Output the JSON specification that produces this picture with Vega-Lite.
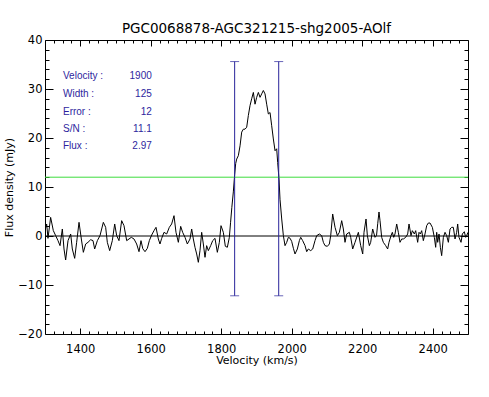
{
  "$schema": "https://vega.github.io/schema/vega-lite/v6.json",
  "width": 423,
  "height": 294,
  "autosize": {"type": "none"},
  "padding": {"left": 45, "top": 40, "right": 21, "bottom": 63},
  "background": "white",
  "title": {"text": "PGC0068878-AGC321215-shg2005-AOlf", "font": "DejaVu Sans", "fontSize": 13.5, "fontWeight": "normal", "color": "black", "offset": -1, "anchor": "middle"},
  "config": {
    "view": {"stroke": null},
    "axis": {"grid": false, "ticks": true, "domainColor": "black", "tickColor": "black", "labelColor": "black", "titleColor": "black", "labelFont": "DejaVu Sans", "titleFont": "DejaVu Sans", "titleFontWeight": "normal", "labelOverlap": false, "labelFlush": false, "labelBound": false, "domainWidth": 1, "tickWidth": 1}
  },
  "datasets": {
    "spec": [
      {"v":1300,"f":1.1},{"v":1304.7,"f":2.45},{"v":1308.5,"f":-0.48},{"v":1316,"f":3.8},{"v":1323.6,"f":1.1},{"v":1330.3,"f":0.07},{"v":1336.9,"f":-0.95},{"v":1342.6,"f":-1.97},{"v":1349.2,"f":1.43},{"v":1353.9,"f":-2.65},{"v":1358.6,"f":-4.9},{"v":1365.3,"f":-0.95},{"v":1372.8,"f":0.41},{"v":1377.5,"f":-2.65},{"v":1384.2,"f":-4.56},{"v":1389.8,"f":-1.29},{"v":1396.5,"f":2.79},{"v":1403.1,"f":-0.61},{"v":1408.8,"f":-3.33},{"v":1415.4,"f":-1.63},{"v":1422,"f":-1.29},{"v":1429.6,"f":-0.75},{"v":1436.2,"f":-0.95},{"v":1440.9,"f":-2.65},{"v":1448.5,"f":-0.95},{"v":1456,"f":0.07},{"v":1465.5,"f":2.79},{"v":1472.1,"f":1.77},{"v":1476.8,"f":-1.29},{"v":1483.5,"f":-2.99},{"v":1491,"f":-0.95},{"v":1497.7,"f":2.45},{"v":1503.3,"f":0.07},{"v":1509.9,"f":-0.95},{"v":1517.5,"f":3.13},{"v":1524.1,"f":2.11},{"v":1531.7,"f":-0.95},{"v":1538.3,"f":-0.61},{"v":1544.9,"f":-0.27},{"v":1552.5,"f":-0.61},{"v":1560,"f":-1.63},{"v":1566.7,"f":-3.2},{"v":1572.3,"f":-0.95},{"v":1577.5,"f":-2.6},{"v":1583.7,"f":-3.2},{"v":1590.3,"f":-2.52},{"v":1596,"f":-0.95},{"v":1602.6,"f":0.2},{"v":1609.2,"f":1.09},{"v":1614.9,"f":1.77},{"v":1621.5,"f":-0.61},{"v":1626.2,"f":-1.63},{"v":1631,"f":-0.48},{"v":1637.6,"f":0.75},{"v":1645.2,"f":0.41},{"v":1652.7,"f":1.77},{"v":1659.3,"f":2.45},{"v":1666,"f":4.15},{"v":1671.6,"f":0.75},{"v":1678.3,"f":-1.29},{"v":1684.9,"f":1.97},{"v":1690.5,"f":0.75},{"v":1697.2,"f":-0.27},{"v":1703.8,"f":-1.63},{"v":1711.4,"f":-0.61},{"v":1716.1,"f":1.43},{"v":1720.8,"f":-0.61},{"v":1725.5,"f":-2.31},{"v":1730.3,"f":-3.67},{"v":1735,"f":-5.37},{"v":1739.7,"f":-2.99},{"v":1744.5,"f":0.75},{"v":1749.2,"f":-1.63},{"v":1753.9,"f":-4.35},{"v":1758.6,"f":-1.97},{"v":1763.4,"f":-2.99},{"v":1770,"f":-1.97},{"v":1775.7,"f":-0.95},{"v":1782.3,"f":-0.48},{"v":1788.9,"f":-3.33},{"v":1794.6,"f":-1.29},{"v":1799.3,"f":2.11},{"v":1805.9,"f":0.75},{"v":1811.6,"f":-2.1},{"v":1817.3,"f":-2.3},{"v":1822.9,"f":-0.3},{"v":1826.5,"f":2.8},{"v":1830,"f":5.8},{"v":1834.3,"f":9.0},{"v":1838,"f":12.5},{"v":1841,"f":14.8},{"v":1843.8,"f":15.7},{"v":1848.5,"f":16.4},{"v":1853.3,"f":18.4},{"v":1858,"f":21.2},{"v":1862.7,"f":21.8},{"v":1867.4,"f":21.8},{"v":1872.2,"f":22.2},{"v":1876.9,"f":24.6},{"v":1881.6,"f":26.6},{"v":1886.3,"f":28.0},{"v":1891.1,"f":29.3},{"v":1895.8,"f":26.9},{"v":1900.5,"f":28.3},{"v":1905.3,"f":29.3},{"v":1910,"f":28.3},{"v":1914.7,"f":29.0},{"v":1919.4,"f":29.7},{"v":1924.2,"f":29.0},{"v":1928.9,"f":26.9},{"v":1933.6,"f":24.9},{"v":1938.4,"f":25.2},{"v":1943.1,"f":22.5},{"v":1947.8,"f":19.8},{"v":1952.6,"f":17.4},{"v":1957.3,"f":17.8},{"v":1960.1,"f":15.0},{"v":1963.9,"f":11.6},{"v":1966.7,"f":7.5},{"v":1971.5,"f":3.47},{"v":1976.2,"f":0.07},{"v":1980.9,"f":-1.97},{"v":1985.7,"f":-1.29},{"v":1990.4,"f":-0.27},{"v":1995.1,"f":-0.45},{"v":1999.8,"f":-1.1},{"v":2004.6,"f":-2.5},{"v":2009.3,"f":-3.67},{"v":2015.9,"f":-2.65},{"v":2021.6,"f":-0.95},{"v":2025.4,"f":-0.27},{"v":2031,"f":-0.95},{"v":2037.7,"f":-1.97},{"v":2042.4,"f":-3.2},{"v":2047.1,"f":-2.65},{"v":2053.7,"f":-2.99},{"v":2059.4,"f":-2.65},{"v":2066,"f":-0.95},{"v":2070.8,"f":0.07},{"v":2078.3,"f":0.41},{"v":2084.9,"f":0.07},{"v":2089.7,"f":-1.29},{"v":2094.4,"f":-1.97},{"v":2101,"f":-2.11},{"v":2106.7,"f":-1.63},{"v":2110.5,"f":0.07},{"v":2116.1,"f":4.49},{"v":2122.8,"f":1.77},{"v":2129.4,"f":0.07},{"v":2135.1,"f":0.75},{"v":2141.7,"f":3.13},{"v":2146.4,"f":1.43},{"v":2151.1,"f":-1.29},{"v":2155.9,"f":0.41},{"v":2163.4,"f":0.75},{"v":2167.2,"f":-0.27},{"v":2172.9,"f":-2.65},{"v":2179.5,"f":-1.29},{"v":2189,"f":0.75},{"v":2195.6,"f":-1.97},{"v":2201.3,"f":-3.67},{"v":2205,"f":0.75},{"v":2210.7,"f":3.47},{"v":2214.5,"f":0.07},{"v":2220.2,"f":-1.97},{"v":2223.9,"f":-1.29},{"v":2229.6,"f":1.43},{"v":2236.3,"f":-0.27},{"v":2240.5,"f":0.1},{"v":2244,"f":2.6},{"v":2247.5,"f":4.9},{"v":2250.4,"f":3.13},{"v":2255.1,"f":-0.27},{"v":2259.8,"f":-1.29},{"v":2266.5,"f":-1.97},{"v":2272.1,"f":-2.65},{"v":2275.9,"f":-1.29},{"v":2281.6,"f":0.07},{"v":2285.4,"f":0.75},{"v":2289.2,"f":-0.27},{"v":2292.9,"f":0.41},{"v":2297.7,"f":2.45},{"v":2302.4,"f":0.75},{"v":2307.1,"f":-1.29},{"v":2311.9,"f":-0.61},{"v":2316.6,"f":-0.61},{"v":2323.2,"f":-0.27},{"v":2328.9,"f":0.41},{"v":2332.7,"f":2.45},{"v":2338.3,"f":0.07},{"v":2342.1,"f":1.09},{"v":2347.8,"f":0.41},{"v":2351.6,"f":1.09},{"v":2357.2,"f":-1.29},{"v":2361,"f":0.75},{"v":2364.8,"f":0.41},{"v":2368.6,"f":1.09},{"v":2373.3,"f":-0.95},{"v":2378,"f":0.41},{"v":2382.8,"f":2.11},{"v":2387.5,"f":2.65},{"v":2392.2,"f":2.65},{"v":2398.9,"f":1.77},{"v":2404.5,"f":-0.27},{"v":2408.3,"f":-2.31},{"v":2411.2,"f":0.75},{"v":2414,"f":-1.29},{"v":2417.8,"f":0.41},{"v":2421.6,"f":-2.31},{"v":2425.3,"f":-4.01},{"v":2430.1,"f":-0.27},{"v":2434.8,"f":0.75},{"v":2439.5,"f":0.07},{"v":2444.3,"f":-1.29},{"v":2449,"f":1.43},{"v":2453.7,"f":1.77},{"v":2458.4,"f":1.77},{"v":2463.2,"f":-0.61},{"v":2467.9,"f":0.75},{"v":2470.7,"f":2.45},{"v":2474.5,"f":-0.27},{"v":2480.2,"f":-1.29},{"v":2484,"f":0.41},{"v":2489.6,"f":0.88},{"v":2493.4,"f":-0.27},{"v":2496.2,"f":0.07},{"v":2500,"f":0.75}
    ],
    "box": [
      {"lab": "Velocity :", "val": "1900", "f": 32.6},
      {"lab": "Width :", "val": "125", "f": 29.0},
      {"lab": "Error :", "val": "12", "f": 25.4},
      {"lab": "S/N :", "val": "11.1", "f": 21.8},
      {"lab": "Flux :", "val": "2.97", "f": 18.3}
    ],
    "edges": [
      {"v": 1838, "lo": -12.2, "hi": 35.6},
      {"v": 1963, "lo": -12.2, "hi": 35.6}
    ]
  },
  "layer": [
    {
      "data": {"name": "spec"},
      "mark": {"type": "line", "color": "black", "strokeWidth": 1, "clip": true, "interpolate": "linear"},
      "encoding": {
        "x": {"field": "v", "type": "quantitative", "scale": {"domain": [1300, 2500], "nice": false, "zero": false},
          "axis": {"orient": "bottom", "values": [1400,1600,1800,2000,2200,2400],
            "format": "d", "tickSize": -6,
            "labelFontSize": 11.5, "labelPadding": 15, "title": "Velocity (km/s)", "titleFontSize": 11, "titlePadding": 0}},
        "y": {"field": "f", "type": "quantitative", "scale": {"domain": [-20, 40], "nice": false, "zero": false},
          "axis": {"orient": "left", "values": [-20,-10,0,10,20,30,40],
            "format": "d", "tickSize": -8,
            "labelFontSize": 11.5, "labelPadding": 11, "title": "Flux density (mJy)", "titleFontSize": 11, "titlePadding": 3}}
      }
    },
    {
      "data": {"name": "spec"},
      "mark": {"type": "line", "opacity": 0},
      "encoding": {
        "x": {"field": "v", "type": "quantitative", "scale": {"domain": [1300, 2500], "nice": false, "zero": false},
          "axis": {"orient": "top", "values": [1400,1600,1800,2000,2200,2400], "labels": false, "title": null, "tickSize": -6}},
        "y": {"field": "f", "type": "quantitative", "scale": {"domain": [-20, 40], "nice": false, "zero": false},
          "axis": {"orient": "right", "values": [-20,-10,0,10,20,30,40], "labels": false, "title": null, "tickSize": -8}}
      }
    },
    {
      "data": {"name": "spec"},
      "mark": {"type": "line", "opacity": 0},
      "encoding": {
        "x": {"field": "v", "type": "quantitative", "scale": {"domain": [1300, 2500], "nice": false, "zero": false},
          "axis": {"orient": "bottom", "values": [1325,1350,1375,1425,1450,1475,1500,1525,1550,1575,1625,1650,1675,1700,1725,1750,1775,1825,1850,1875,1900,1925,1950,1975,2025,2050,2075,2100,2125,2150,2175,2225,2250,2275,2300,2325,2350,2375,2425,2450,2475], "labels": false, "domain": false, "title": null, "tickSize": -3}},
        "y": {"field": "f", "type": "quantitative", "scale": {"domain": [-20, 40], "nice": false, "zero": false},
          "axis": {"orient": "left", "values": [-18,-16,-14,-12,-8,-6,-4,-2,2,4,6,8,12,14,16,18,22,24,26,28,32,34,36,38], "labels": false, "domain": false, "title": null, "tickSize": -4}}
      }
    },
    {
      "data": {"name": "spec"},
      "mark": {"type": "line", "opacity": 0},
      "encoding": {
        "x": {"field": "v", "type": "quantitative", "scale": {"domain": [1300, 2500], "nice": false, "zero": false},
          "axis": {"orient": "top", "values": [1325,1350,1375,1425,1450,1475,1500,1525,1550,1575,1625,1650,1675,1700,1725,1750,1775,1825,1850,1875,1900,1925,1950,1975,2025,2050,2075,2100,2125,2150,2175,2225,2250,2275,2300,2325,2350,2375,2425,2450,2475], "labels": false, "domain": false, "title": null, "tickSize": -3}},
        "y": {"field": "f", "type": "quantitative", "scale": {"domain": [-20, 40], "nice": false, "zero": false},
          "axis": {"orient": "right", "values": [-18,-16,-14,-12,-8,-6,-4,-2,2,4,6,8,12,14,16,18,22,24,26,28,32,34,36,38], "labels": false, "domain": false, "title": null, "tickSize": -4}}
      }
    },
    {
      "data": {"values": [{"f": 0}]},
      "mark": {"type": "rule", "color": "black", "strokeWidth": 1},
      "encoding": {"y": {"field": "f", "type": "quantitative", "scale": {"domain": [-20, 40], "nice": false, "zero": false}, "axis": null}}
    },
    {
      "data": {"values": [{"f": 12}]},
      "mark": {"type": "rule", "color": "#3ddc3d", "strokeWidth": 1},
      "encoding": {"y": {"field": "f", "type": "quantitative", "scale": {"domain": [-20, 40], "nice": false, "zero": false}, "axis": null}}
    },
    {
      "data": {"name": "edges"},
      "mark": {"type": "rule", "color": "#28239a", "strokeWidth": 1},
      "encoding": {
        "x": {"field": "v", "type": "quantitative", "scale": {"domain": [1300, 2500], "nice": false, "zero": false}, "axis": null},
        "y": {"field": "lo", "type": "quantitative", "scale": {"domain": [-20, 40], "nice": false, "zero": false}, "axis": null},
        "y2": {"field": "hi"}
      }
    },
    {
      "data": {"name": "edges"},
      "mark": {"type": "tick", "orient": "horizontal", "color": "#28239a", "size": 9, "thickness": 1},
      "encoding": {
        "x": {"field": "v", "type": "quantitative", "scale": {"domain": [1300, 2500], "nice": false, "zero": false}, "axis": null},
        "y": {"field": "hi", "type": "quantitative", "scale": {"domain": [-20, 40], "nice": false, "zero": false}, "axis": null}
      }
    },
    {
      "data": {"name": "edges"},
      "mark": {"type": "tick", "orient": "horizontal", "color": "#28239a", "size": 9, "thickness": 1},
      "encoding": {
        "x": {"field": "v", "type": "quantitative", "scale": {"domain": [1300, 2500], "nice": false, "zero": false}, "axis": null},
        "y": {"field": "lo", "type": "quantitative", "scale": {"domain": [-20, 40], "nice": false, "zero": false}, "axis": null}
      }
    },
    {
      "data": {"name": "box"},
      "mark": {"type": "text", "align": "left", "baseline": "middle", "font": "Liberation Sans", "fontSize": 10, "color": "#2e1f9e"},
      "encoding": {
        "x": {"datum": 1351, "type": "quantitative", "scale": {"domain": [1300, 2500], "nice": false, "zero": false}, "axis": null},
        "y": {"field": "f", "type": "quantitative", "scale": {"domain": [-20, 40], "nice": false, "zero": false}, "axis": null},
        "text": {"field": "lab"}
      }
    },
    {
      "data": {"name": "box"},
      "mark": {"type": "text", "align": "right", "baseline": "middle", "font": "Liberation Sans", "fontSize": 10, "color": "#2e1f9e"},
      "encoding": {
        "x": {"datum": 1603, "type": "quantitative", "scale": {"domain": [1300, 2500], "nice": false, "zero": false}, "axis": null},
        "y": {"field": "f", "type": "quantitative", "scale": {"domain": [-20, 40], "nice": false, "zero": false}, "axis": null},
        "text": {"field": "val"}
      }
    }
  ],
  "resolve": {"axis": {"x": "independent", "y": "independent"}}
}
